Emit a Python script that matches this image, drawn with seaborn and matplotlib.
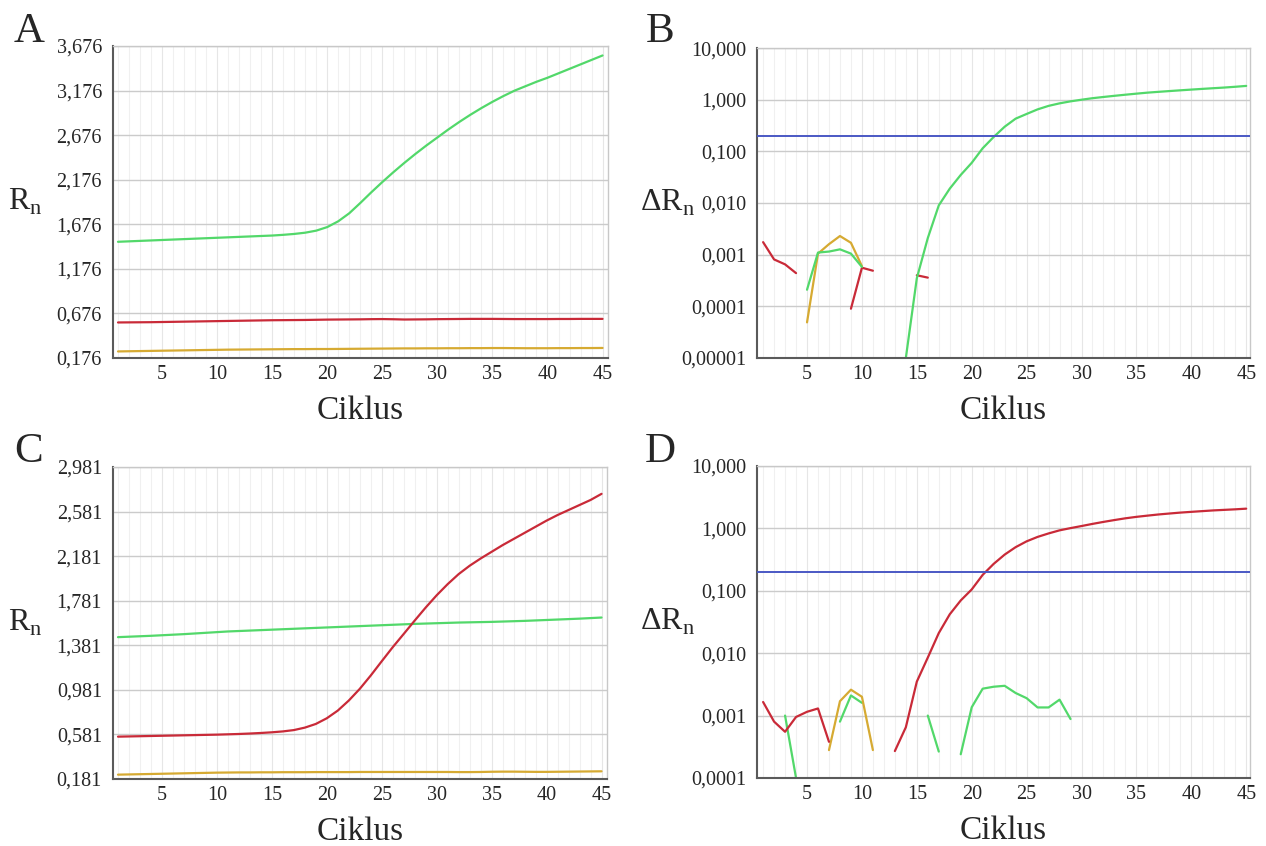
import numpy as np
import pandas as pd
import seaborn as sns
import matplotlib.pyplot as plt
from matplotlib.ticker import FixedLocator, MultipleLocator, NullLocator

nan = np.nan
cycles = list(range(1, 46))

# %% panel A - raw Rn
a_green = [1.48, 1.485, 1.49, 1.495, 1.50, 1.505, 1.51, 1.515, 1.52, 1.525,
           1.53, 1.535, 1.54, 1.545, 1.55, 1.558, 1.568, 1.582, 1.605, 1.645,
           1.71, 1.80, 1.915, 2.035, 2.15, 2.26, 2.365, 2.465, 2.56, 2.65,
           2.74, 2.825, 2.905, 2.98, 3.05, 3.115, 3.175, 3.225, 3.275, 3.32,
           3.37, 3.42, 3.47, 3.52, 3.57]
a_red = [0.575, 0.576, 0.577, 0.578, 0.58, 0.582, 0.584, 0.586, 0.588, 0.59,
         0.592, 0.594, 0.596, 0.598, 0.60, 0.601, 0.602, 0.603, 0.605, 0.607,
         0.608, 0.609, 0.61, 0.612, 0.613, 0.611, 0.608, 0.609, 0.61, 0.612,
         0.613, 0.614, 0.615, 0.615, 0.615, 0.614, 0.613, 0.613, 0.613, 0.613,
         0.614, 0.614, 0.615, 0.615, 0.615]
a_yellow = [0.25, 0.252, 0.254, 0.256, 0.258, 0.26, 0.262, 0.264, 0.266, 0.268,
            0.27, 0.271, 0.272, 0.273, 0.274, 0.275, 0.276, 0.276, 0.277, 0.277,
            0.278, 0.279, 0.28, 0.281, 0.282, 0.283, 0.284, 0.284, 0.285, 0.285,
            0.286, 0.286, 0.287, 0.287, 0.288, 0.288, 0.287, 0.286, 0.286, 0.286,
            0.287, 0.287, 0.288, 0.288, 0.289]

# %% panel B - delta Rn (log)
b_red = [1.75e-3, 8.1e-4, 6.5e-4, 4.4e-4, nan, nan, nan, nan, 9e-5, 5.6e-4,
         4.9e-4, nan, nan, nan, 4.0e-4, 3.6e-4] + [nan] * 29
b_yellow = [nan, nan, nan, nan, 4.9e-5, 1.05e-3, 1.6e-3, 2.3e-3, 1.7e-3, 6e-4] + [nan] * 35
b_green = [nan, nan, nan, nan, 2.1e-4, 1.1e-3, 1.15e-3, 1.27e-3, 1.05e-3, 5.8e-4,
           nan, nan, nan, 1.0e-5, 3.5e-4, 2.1e-3, 9e-3, 0.019, 0.035, 0.06,
           0.115, 0.19, 0.3, 0.43, 0.53, 0.65, 0.76, 0.85, 0.93, 1.0,
           1.07, 1.13, 1.19, 1.25, 1.31, 1.37, 1.42, 1.47, 1.52, 1.57,
           1.62, 1.67, 1.72, 1.78, 1.85]

# %% panel C - raw Rn
c_red = [0.561, 0.563, 0.565, 0.567, 0.569, 0.571, 0.573, 0.575, 0.577, 0.579,
         0.582, 0.585, 0.589, 0.594, 0.60, 0.608, 0.62, 0.642, 0.675, 0.726,
         0.795, 0.885, 0.99, 1.11, 1.238, 1.364, 1.483, 1.603, 1.72, 1.83,
         1.93, 2.02, 2.095, 2.16, 2.22, 2.28, 2.335, 2.39, 2.445, 2.50,
         2.55, 2.595, 2.64, 2.685, 2.74]
c_green = [1.454, 1.458, 1.462, 1.466, 1.471, 1.476, 1.481, 1.487, 1.493, 1.499,
           1.505, 1.509, 1.513, 1.517, 1.521, 1.525, 1.529, 1.533, 1.537, 1.541,
           1.545, 1.549, 1.553, 1.557, 1.561, 1.565, 1.569, 1.573, 1.576, 1.579,
           1.582, 1.585, 1.587, 1.589, 1.591, 1.594, 1.597, 1.600, 1.604, 1.608,
           1.612, 1.616, 1.620, 1.625, 1.630]
c_yellow = [0.22, 0.222, 0.224, 0.226, 0.228, 0.23, 0.232, 0.234, 0.236, 0.238,
            0.239, 0.24, 0.24, 0.241, 0.241, 0.242, 0.242, 0.242, 0.243, 0.243,
            0.243, 0.243, 0.244, 0.244, 0.244, 0.244, 0.244, 0.244, 0.244, 0.244,
            0.244, 0.243, 0.243, 0.244, 0.246, 0.247, 0.247, 0.246, 0.245, 0.245,
            0.246, 0.247, 0.248, 0.249, 0.25]

# %% panel D - delta Rn (log)
d_red = [1.65e-3, 8e-4, 5.5e-4, 9.5e-4, 1.15e-3, 1.3e-3, 3.8e-4, nan, nan, nan,
         nan, nan, 2.7e-4, 6.5e-4, 3.5e-3, 8.5e-3, 0.021, 0.042, 0.07, 0.105,
         0.18, 0.27, 0.38, 0.5, 0.62, 0.73, 0.83, 0.93, 1.01, 1.09,
         1.18, 1.27, 1.36, 1.45, 1.53, 1.6, 1.67, 1.73, 1.79, 1.84,
         1.89, 1.94, 1.98, 2.02, 2.07]
d_yellow = [nan] * 6 + [2.8e-4, 1.7e-3, 2.6e-3, 2.0e-3, 2.8e-4] + [nan] * 34
d_green = [nan, nan, 1.0e-3, 1.0e-4, nan, nan, nan, 8e-4, 2.1e-3, 1.6e-3,
           nan, nan, nan, nan, nan, 1.0e-3, 2.65e-4, nan, 2.4e-4, 1.36e-3,
           2.7e-3, 2.9e-3, 3.0e-3, 2.3e-3, 1.9e-3, 1.35e-3, 1.35e-3, 1.8e-3, 8.8e-4] + [nan] * 16

THRESHOLD = 0.2

a_ticks = [0.176, 0.676, 1.176, 1.676, 2.176, 2.676, 3.176, 3.676]
c_ticks = [0.181, 0.581, 0.981, 1.381, 1.781, 2.181, 2.581, 2.981]
b_ticks = [1e-5, 1e-4, 1e-3, 1e-2, 1e-1, 1, 10]
b_labels = ['0,00001', '0,0001', '0,001', '0,010', '0,100', '1,000', '10,000']
d_ticks = [1e-4, 1e-3, 1e-2, 1e-1, 1, 10]
d_labels = ['0,0001', '0,001', '0,010', '0,100', '1,000', '10,000']

colors = {'green': '#52d86a', 'red': '#c92a38', 'yellow': '#d6aa32'}

sns.set_style("white")
plt.rcParams['font.family'] = ['Liberation Serif', 'DejaVu Serif']
plt.rcParams['mathtext.fontset'] = 'custom'
plt.rcParams['mathtext.rm'] = 'Liberation Serif'


def long_df(series):
    # split each series into runs so that missing cycles leave gaps
    rows = []
    seg = 0
    for name, vals in series.items():
        seg += 1
        for c, v in zip(cycles, vals):
            if np.isnan(v):
                seg += 1
                continue
            rows.append({'cycle': c, 'value': v, 'series': name, 'seg': seg})
    return pd.DataFrame(rows)


fig = plt.figure(figsize=(12.66, 8.46), dpi=100)
axA = fig.add_axes([0.0893, 0.5768, 0.391, 0.3688])
axB = fig.add_axes([0.598, 0.5768, 0.3894, 0.3664])
axC = fig.add_axes([0.0893, 0.0792, 0.3902, 0.3688])
axD = fig.add_axes([0.598, 0.0804, 0.3894, 0.3688])

panels = [
    (axA, 'A', {'green': a_green, 'red': a_red, 'yellow': a_yellow}, False, (14, 42)),
    (axB, 'B', {'red': b_red, 'yellow': b_yellow, 'green': b_green}, True, (646, 42)),
    (axC, 'C', {'green': c_green, 'red': c_red, 'yellow': c_yellow}, False, (14, 462)),
    (axD, 'D', {'green': d_green, 'yellow': d_yellow, 'red': d_red}, True, (645, 462)),
]

for ax, letter, series, logy, (lx, ly) in panels:
    df = long_df(series)
    sns.lineplot(data=df, x='cycle', y='value', hue='series', units='seg',
                 estimator=None, palette=colors, legend=False, lw=1.6, ax=ax)
    if logy:
        ax.set_yscale('log')
        ax.axhline(THRESHOLD, color='#4a58c4', lw=1.4, zorder=3)
        if letter == 'B':
            ax.set_ylim(1e-5, 10)
            ax.yaxis.set_major_locator(FixedLocator(b_ticks))
            ax.set_yticklabels(b_labels)
        else:
            ax.set_ylim(1e-4, 10)
            ax.yaxis.set_major_locator(FixedLocator(d_ticks))
            ax.set_yticklabels(d_labels)
        ax.yaxis.set_minor_locator(NullLocator())
        ax.set_xlim(0.45, 45.35)
        ylab = 'ΔR$_\\mathregular{n}$'
        lab_x = -0.126
    else:
        ticks = a_ticks if letter == 'A' else c_ticks
        ax.set_ylim(ticks[0], ticks[-1])
        ax.set_yticks(ticks)
        ax.set_yticklabels([f'{t:.3f}'.replace('.', ',') for t in ticks])
        ax.set_xlim(0.55, 45.5)
        ylab = 'R$_\\mathregular{n}$'
        lab_x = -0.143

    ax.set_xticks(range(5, 46, 5))
    ax.xaxis.set_minor_locator(MultipleLocator(1))
    ax.grid(True, which='major', axis='y', color='#cbcbcb', lw=1)
    ax.grid(True, which='minor', axis='x', color='#f0f0f0', lw=0.8)
    ax.grid(True, which='major', axis='x', color='#e6e6e6', lw=0.8)
    ax.set_axisbelow(True)
    ax.tick_params(axis='both', which='both', length=0, labelsize=14.5)
    ax.tick_params(axis='y', pad=8)
    ax.tick_params(axis='x', pad=5)
    for side in ['left', 'bottom']:
        ax.spines[side].set_color('#5a5a5a')
        ax.spines[side].set_linewidth(1.5)
    for side in ['top', 'right']:
        ax.spines[side].set_color('#c8c8c8')
        ax.spines[side].set_linewidth(1)

    ax.set_xlabel('Ciklus', fontsize=24, labelpad=8)
    ax.set_ylabel(ylab, fontsize=23, rotation=0, ha='right', va='center')
    ax.yaxis.set_label_coords(lab_x, 0.5)

    fig.text(lx / 1266, 1 - ly / 846, letter, fontsize=31,
             ha='left', va='baseline')

fig.savefig('out.png', dpi=100)
